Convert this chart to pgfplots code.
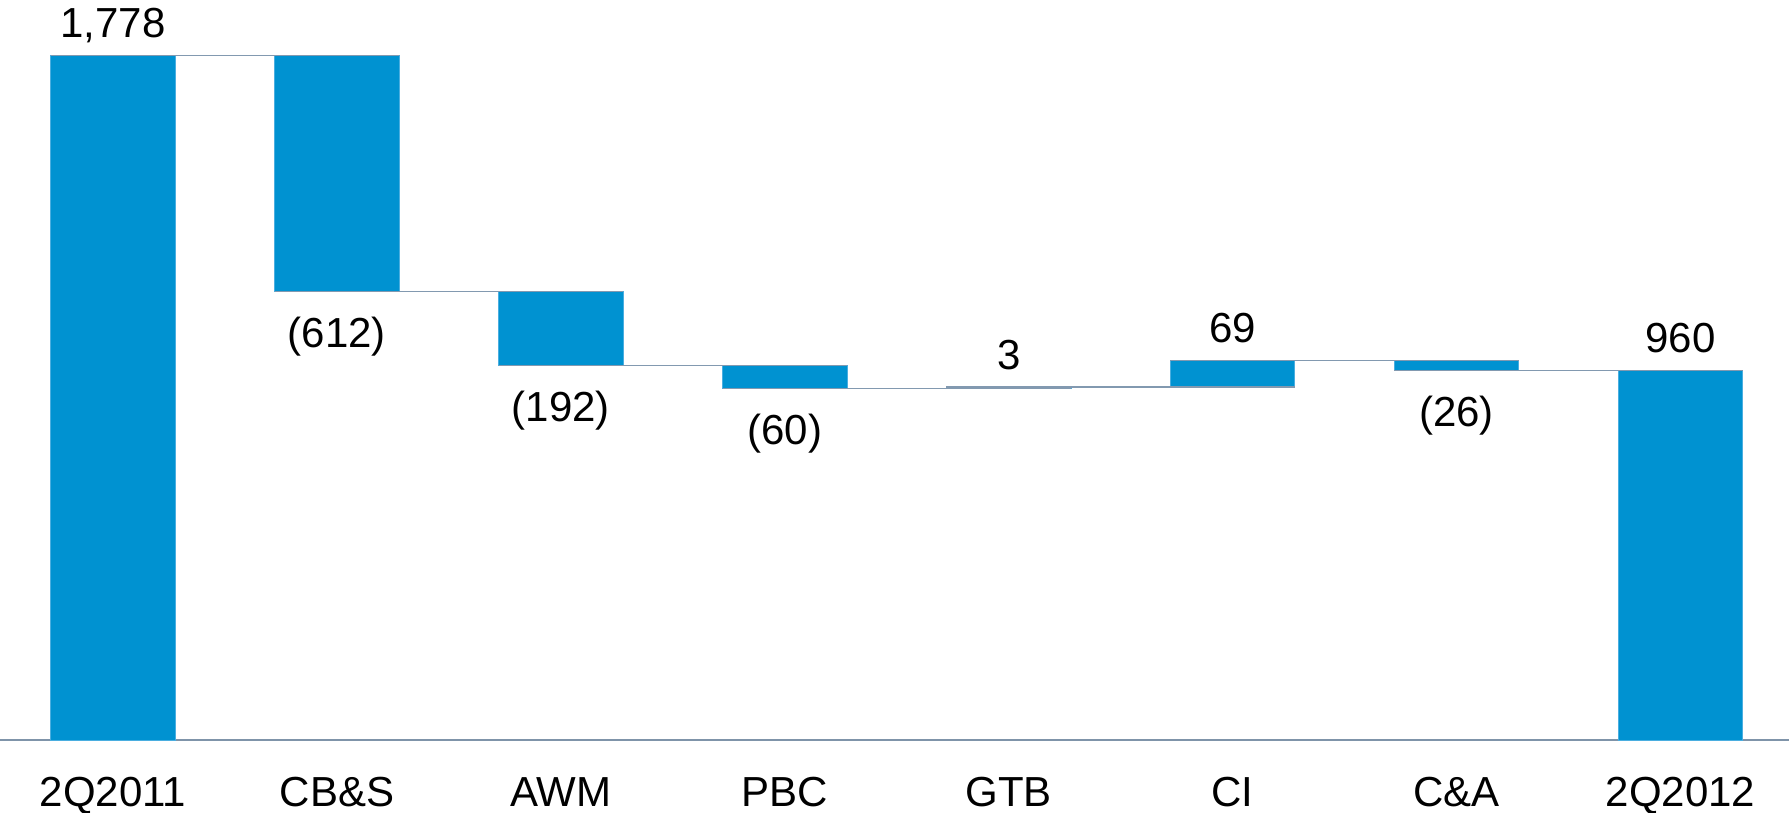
\documentclass[border=0pt]{standalone}
\usepackage{fontspec}
\setmainfont{Liberation Sans}
\usepackage{pgfplots}
\pgfplotsset{compat=1.18}
\usepackage{pgfplotstable}

\definecolor{barblue}{HTML}{0092D1}
\definecolor{baredge}{HTML}{4AAEE0}
\definecolor{linkgray}{HTML}{8299B0}
\definecolor{axisgray}{HTML}{7F94A9}
\newcommand{\lbl}{\fontsize{21}{25}\selectfont}

% waterfall: invisible base + visible step
\pgfplotstableread{
x base delta
0 0    1778
1 1166 612
2 974  192
3 914  60
4 914  3
5 917  69
6 960  26
7 0    960
}\bars

\pgfplotstableread{
x y lab
0 1778 1,778
4 917  3
5 986  69
7 960  960
}\abovelabels

\pgfplotstableread{
x y lab
1 1166 (612)
2 974  (192)
3 914  (60)
6 960  (26)
}\belowlabels

% connectors: from left edge of one bar to right edge of the next
\pgfplotstableread{
x y
-0.278 1778
1.278  1778
nan    nan
0.722  1166
2.278  1166
nan    nan
1.722  974
3.278  974
nan    nan
2.722  914
4.278  914
nan    nan
3.722  917
5.278  917
nan    nan
4.722  986
6.278  986
nan    nan
5.722  960
7.278  960
}\links

\pgfplotsset{
  wf/.style={
    width=894.5pt, height=370pt, scale only axis,
    xmin=-0.505, xmax=7.485, ymin=0, ymax=1922.6,
    clip=false,
  },
}

\begin{document}
\begin{tikzpicture}
\begin{axis}[
    wf,
    ybar stacked,
    bar width=62.2pt,
    axis y line=none,
    axis x line*=bottom,
    x axis line style={draw=axisgray, line width=1.35pt, -},
    xtick={0,...,7},
    xticklabels={2Q2011, CB\&S, AWM, PBC, GTB, CI, C\&A, 2Q2012},
    major tick length=0pt,
    ytick=\empty,
    xticklabel style={font=\lbl, anchor=base, yshift=-33.3pt, text=black},
]
\addplot[draw=none, fill=none] table[x=x, y=base] {\bars};
\addplot[fill=barblue, draw=baredge, line width=0.4pt] table[x=x, y=delta] {\bars};
\coordinate (bl) at (rel axis cs:0,0);
\coordinate (tr) at (rel axis cs:1,1);
\end{axis}

\begin{axis}[wf, hide axis]
\addplot[linkgray, line width=0.55pt, mark=none, unbounded coords=jump] table {\links};
\addplot[draw=none, mark=none, nodes near coords, point meta=explicit symbolic,
    nodes near coords style={font=\lbl, anchor=base, yshift=9pt, inner sep=0pt}]
    table[x=x, y=y, meta=lab] {\abovelabels};
\addplot[draw=none, mark=none, nodes near coords, point meta=explicit symbolic,
    nodes near coords style={font=\lbl, anchor=base, yshift=-28pt, inner sep=0pt}]
    table[x=x, y=y, meta=lab] {\belowlabels};
\end{axis}

\pgfresetboundingbox
\useasboundingbox (bl) ++(0,-36.5pt) rectangle (tr);
\end{tikzpicture}
\end{document}
